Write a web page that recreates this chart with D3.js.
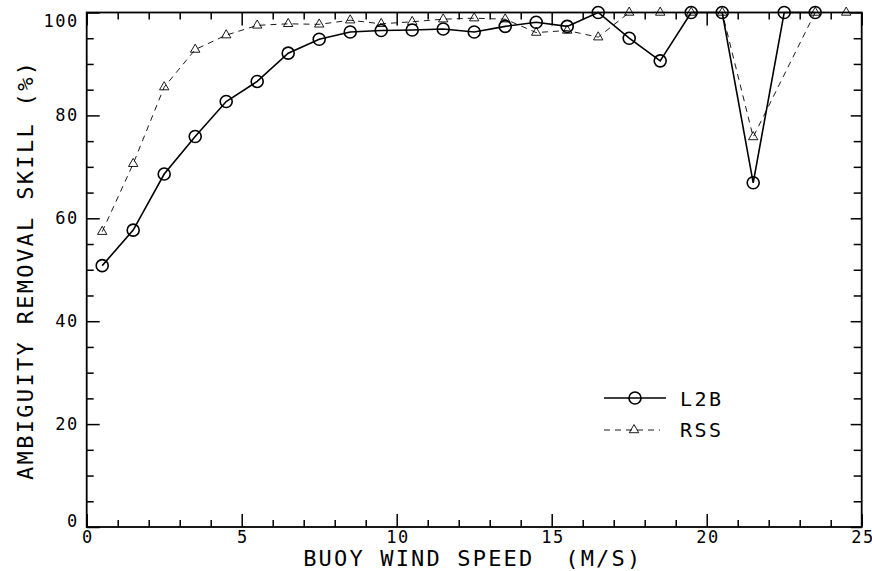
<!DOCTYPE html>
<html>
<head>
<meta charset="utf-8">
<script src="https://cdn.jsdelivr.net/npm/d3@7"></script>
<style>
  body { margin: 0; background: #fff; }
  text { font-family: "DejaVu Sans Mono", "Liberation Mono", monospace; fill: #000; }
</style>
</head>
<body>
<div id="vis"></div>
<script>
// wind speed bins (m/s), bin centres
var windSpeed = [0.5, 1.5, 2.5, 3.5, 4.5, 5.5, 6.5, 7.5, 8.5, 9.5, 10.5, 11.5, 12.5,
  13.5, 14.5, 15.5, 16.5, 17.5, 18.5, 19.5, 20.5, 21.5, 22.5, 23.5, 24.5];

// ambiguity removal skill (%), null = no point in that bin
var l2bSkill = [50.8, 57.7, 68.6, 75.9, 82.7, 86.6, 92.1, 94.8, 96.2, 96.5, 96.6, 96.8, 96.2,
  97.3, 98.1, 97.3, 100, 95.0, 90.6, 100, 100, 66.9, 100, 100, null];
var rssSkill = [57.4, 70.6, 85.5, 92.8, 95.6, 97.5, 97.8, 97.7, 98.5, 97.8, 98.2, 98.7, 98.9,
  98.7, 96.1, 96.5, 95.2, 100, 100, 100, 100, 75.8, null, 100, 100];

var xTicksMajor = [0, 5, 10, 15, 20, 25];
var yTicksMajor = [0, 20, 40, 60, 80, 100];

var width = 872;
var height = 571;
var plotLeft = 86.7, plotRight = 861.7, plotTop = 12.5, plotBottom = 527;

var svg = d3.select('#vis')
  .append('svg')
  .attr('width', width)
  .attr('height', height);

var x = d3.scaleLinear().domain([0, 25]).range([plotLeft, plotRight]);
var y = d3.scaleLinear().domain([0, 100]).range([plotBottom, plotTop]);

// minor ticks every 1 m/s and every 5 %
var xMinor = d3.range(0, 26).filter(function (d) { return d % 5 !== 0; });
var yMinor = d3.range(0, 101, 5).filter(function (d) { return d % 20 !== 0; });

function tickStyle(g) {
  g.select('.domain').remove();
  g.attr('font-family', null).attr('font-size', null);
  g.selectAll('.tick line').attr('stroke', '#000').attr('stroke-width', 1.5);
}

// bottom
svg.append('g').attr('transform', 'translate(0,' + plotBottom + ')')
  .call(d3.axisBottom(x).tickValues(xMinor).tickSize(-7).tickFormat(''))
  .call(tickStyle);
var xAxisG = svg.append('g').attr('transform', 'translate(0,' + plotBottom + ')')
  .call(d3.axisBottom(x).tickValues(xTicksMajor).tickSize(-13).tickPadding(4).tickFormat(d3.format('d')))
  .call(tickStyle);
xAxisG.selectAll('text').attr('font-size', 17)
  .style('letter-spacing', '1.5px').attr('dx', '0.75px');

// top
svg.append('g').attr('transform', 'translate(0,' + plotTop + ')')
  .call(d3.axisTop(x).tickValues(xMinor).tickSize(-7).tickFormat(''))
  .call(tickStyle);
svg.append('g').attr('transform', 'translate(0,' + plotTop + ')')
  .call(d3.axisTop(x).tickValues(xTicksMajor).tickSize(-13).tickFormat(''))
  .call(tickStyle);

// left
svg.append('g').attr('transform', 'translate(' + plotLeft + ',0)')
  .call(d3.axisLeft(y).tickValues(yMinor).tickSize(-7).tickFormat(''))
  .call(tickStyle);
var yAxisG = svg.append('g').attr('transform', 'translate(' + plotLeft + ',0)')
  .call(d3.axisLeft(y).tickValues(yTicksMajor).tickSize(-13).tickPadding(8).tickFormat(d3.format('d')))
  .call(tickStyle);
yAxisG.selectAll('text').attr('font-size', 17)
  .style('letter-spacing', '1.5px')
  .attr('y', function (d) {
    // labels stay inside the frame at the ends
    var py = y(d);
    var clamped = Math.max(21, Math.min(521.5, py));
    return clamped - py;
  });

// right
svg.append('g').attr('transform', 'translate(' + plotRight + ',0)')
  .call(d3.axisRight(y).tickValues(yMinor).tickSize(-8).tickFormat(''))
  .call(tickStyle);
svg.append('g').attr('transform', 'translate(' + plotRight + ',0)')
  .call(d3.axisRight(y).tickValues(yTicksMajor).tickSize(-11).tickFormat(''))
  .call(tickStyle);

// frame
svg.append('rect')
  .attr('x', plotLeft).attr('y', plotTop)
  .attr('width', plotRight - plotLeft).attr('height', plotBottom - plotTop)
  .attr('fill', 'none').attr('stroke', '#000').attr('stroke-width', 1.8);

// axis titles
svg.append('text')
  .attr('x', (plotLeft + plotRight) / 2 - 2.5)
  .attr('y', 566)
  .attr('text-anchor', 'middle')
  .attr('font-size', 22)
  .attr('textLength', 337)
  .attr('lengthAdjust', 'spacing')
  .attr('xml:space', 'preserve')
  .style('white-space', 'pre')
  .text('BUOY WIND SPEED  (M/S)');

svg.append('text')
  .attr('transform', 'translate(33,271) rotate(-90)')
  .attr('text-anchor', 'middle')
  .attr('font-size', 22)
  .attr('textLength', 418)
  .attr('lengthAdjust', 'spacing')
  .text('AMBIGUITY REMOVAL SKILL (%)');

// series
function points(values) {
  return windSpeed.map(function (w, i) {
    return { x: w, y: values[i] };
  }).filter(function (d) { return d.y !== null; });
}

var l2bPts = points(l2bSkill);
var rssPts = points(rssSkill);

var line = d3.line()
  .x(function (d) { return x(d.x); })
  .y(function (d) { return y(d.y); });

var triangle = d3.symbol().type(d3.symbolTriangle).size(38);

svg.append('path')
  .datum(rssPts)
  .attr('d', line)
  .attr('fill', 'none')
  .attr('stroke', '#000')
  .attr('stroke-width', 0.9)
  .attr('stroke-dasharray', '6,5');

svg.selectAll('.rss')
  .data(rssPts)
  .enter()
  .append('path')
  .attr('class', 'rss')
  .attr('d', triangle)
  .attr('transform', function (d) { return 'translate(' + x(d.x) + ',' + y(d.y) + ')'; })
  .attr('fill', 'none')
  .attr('stroke', '#000')
  .attr('stroke-width', 0.9);

svg.append('path')
  .datum(l2bPts)
  .attr('d', line)
  .attr('fill', 'none')
  .attr('stroke', '#000')
  .attr('stroke-width', 1.6);

svg.selectAll('.l2b')
  .data(l2bPts)
  .enter()
  .append('circle')
  .attr('class', 'l2b')
  .attr('cx', function (d) { return x(d.x); })
  .attr('cy', function (d) { return y(d.y); })
  .attr('r', 6)
  .attr('fill', 'none')
  .attr('stroke', '#000')
  .attr('stroke-width', 1.6);

// legend
var legend = svg.append('g').attr('transform', 'translate(604,398)');

legend.append('line')
  .attr('x1', 0).attr('x2', 62).attr('y1', 0).attr('y2', 0)
  .attr('stroke', '#000').attr('stroke-width', 1.6);
legend.append('circle')
  .attr('cx', 31).attr('cy', 0).attr('r', 6)
  .attr('fill', 'none').attr('stroke', '#000').attr('stroke-width', 1.6);
legend.append('text')
  .attr('x', 76).attr('y', 8)
  .attr('font-size', 20)
  .style('letter-spacing', '2.5px')
  .text('L2B');

legend.append('line')
  .attr('x1', 0).attr('x2', 56).attr('y1', 32).attr('y2', 32)
  .attr('stroke', '#000').attr('stroke-width', 0.9)
  .attr('stroke-dasharray', '6,5');
legend.append('path')
  .attr('d', triangle)
  .attr('transform', 'translate(30,32)')
  .attr('fill', 'none').attr('stroke', '#000').attr('stroke-width', 0.9);
legend.append('text')
  .attr('x', 76).attr('y', 39)
  .attr('font-size', 20)
  .style('letter-spacing', '2.5px')
  .text('RSS');
</script>
</body>
</html>
